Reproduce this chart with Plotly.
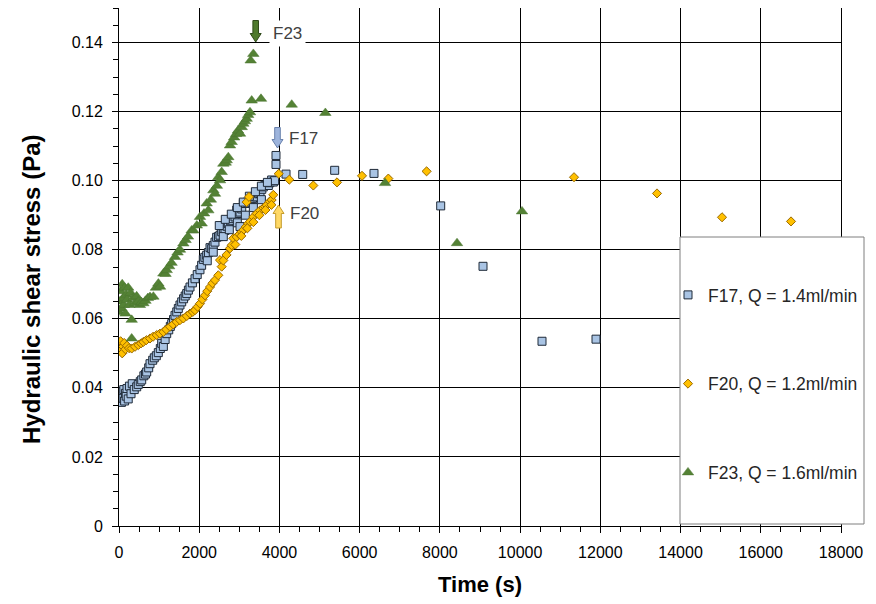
import plotly.graph_objects as go

# ---------------- data ----------------
f17_t = [0, 20, 40, 60, 80, 100, 120, 140, 160, 180, 200, 230, 260, 300, 330, 380,
         441, 480, 530, 566, 620, 660, 690, 740, 773, 840, 880, 930, 980, 1030, 1064, 1106,
         1150, 1189, 1240, 1280, 1314, 1360, 1396, 1440, 1479, 1520, 1563, 1610, 1650, 1688,
         1730, 1770, 1830, 1895, 1950, 2019, 2060, 2102, 2140, 2186, 2230, 2269, 2311, 2350,
         2393, 2435, 2480, 2518, 2560, 2601, 2643, 2690, 2725, 2780, 2840, 2892, 2934, 2970,
         3017, 3060, 3100, 3141, 3200, 3266, 3330, 3380, 3433, 3480, 3515, 3560, 3599, 3640,
         3680, 3723, 3760, 3806, 3847, 3880,
         2500, 2650, 2800, 2950, 3100, 3250, 3400, 3550, 3700,
         2200, 2350, 2600, 2750, 2950, 3150, 3350, 3550, 3017,
         3914, 3914, 4164, 4580, 5377, 6357, 8020, 9075, 10546, 11892]
f17_v = [0.0365, 0.0372, 0.0380, 0.0358, 0.0388, 0.0370, 0.0395, 0.0362, 0.0384, 0.0376, 0.0398, 0.0368, 0.0405, 0.0383, 0.0412, 0.0395,
         0.0403, 0.0410, 0.0418, 0.0423, 0.0435, 0.0440, 0.0446, 0.0458, 0.0470, 0.0480, 0.0487, 0.0493, 0.0502, 0.0514, 0.0529, 0.0520,
         0.0540, 0.0557, 0.0568, 0.0578, 0.0586, 0.0598, 0.0610, 0.0620, 0.0630, 0.0640, 0.0649, 0.0658, 0.0666, 0.0673,
         0.0683, 0.0692, 0.0704, 0.0716, 0.0728, 0.0742, 0.0755, 0.0772, 0.0778, 0.0784, 0.0792, 0.0806, 0.0803, 0.0812,
         0.0822, 0.0836, 0.0838, 0.0842, 0.0852, 0.0857, 0.0856, 0.0868, 0.0876, 0.0884, 0.0890, 0.0895, 0.0915, 0.0905,
         0.0909, 0.0918, 0.0934, 0.0934, 0.0938, 0.0943, 0.0948, 0.0953, 0.0953, 0.0962, 0.0963, 0.0975, 0.0982, 0.0987,
         0.0986, 0.0986, 0.0994, 0.1002, 0.0996, 0.1000,
         0.0870, 0.0888, 0.0903, 0.0922, 0.0938, 0.0955, 0.0968, 0.0984, 0.0995,
         0.0768, 0.0793, 0.0838, 0.0858, 0.0878, 0.0900, 0.0922, 0.0945, 0.0867,
         0.1047, 0.1073, 0.1019, 0.1018, 0.1030, 0.1021, 0.0927, 0.0752, 0.0535, 0.0541]

f20_t = [20, 40, 60, 80, 100, 130, 160, 200, 250, 316, 400, 482, 550, 607, 680, 773, 850, 940,
         1020, 1106, 1180, 1272, 1350, 1438, 1520, 1604, 1690, 1770, 1840, 1895, 1960, 2019,
         2080, 2144, 2200, 2269, 2330, 2393, 2476, 2518, 2560, 2601, 2680, 2767, 2809, 2850,
         2934, 3000, 3060, 3100, 3160, 3224, 3266, 3349, 3433, 3515, 3600, 3640, 3682, 3760,
         3806, 3847, 2900, 3050, 3200, 3350, 3500, 3650, 3800, 3183, 3241,
         3982, 4246, 4845, 5435, 6058, 6715, 7669, 11344, 13413, 15034, 16754]
f20_v = [0.0528, 0.0535, 0.0509, 0.0500, 0.0520, 0.0530, 0.0512, 0.0522, 0.0515, 0.0514, 0.0519, 0.0524, 0.0529, 0.0533, 0.0538, 0.0543, 0.0548, 0.0553,
         0.0557, 0.0562, 0.0569, 0.0577, 0.0584, 0.0591, 0.0596, 0.0601, 0.0608, 0.0615, 0.0620, 0.0625, 0.0635, 0.0644,
         0.0656, 0.0668, 0.0680, 0.0692, 0.0703, 0.0712, 0.0726, 0.0770, 0.0751, 0.0769, 0.0785, 0.0804, 0.0813, 0.0833,
         0.0837, 0.0845, 0.0852, 0.0857, 0.0866, 0.0876, 0.0881, 0.0895, 0.0905, 0.0914, 0.0921, 0.0925, 0.0929, 0.0940,
         0.0944, 0.0959, 0.0815, 0.0840, 0.0862, 0.0880, 0.0900, 0.0915, 0.0930, 0.0938, 0.0953,
         0.1020, 0.1003, 0.0986, 0.0995, 0.1014, 0.1006, 0.1027, 0.1010, 0.0963, 0.0894, 0.0882]

f23_t = [0, 20, 40, 60, 80, 100, 120, 140, 160, 180, 200, 230, 260, 290, 316, 316, 360, 400,
         440, 480, 520, 560, 607, 660, 720, 773, 857, 920, 982, 1023, 1106, 1160, 1189, 1250,
         1310, 1396, 1460, 1520, 1604, 1660, 1720, 1812, 1853, 1940, 2019, 2061, 2120, 2186,
         2227, 2290, 2353, 2393, 2440, 2476, 2518, 2560, 2601, 2660, 2685, 2725, 2767, 2809,
         2870, 2920, 2967, 3017, 3060, 3100, 3140, 3183, 3220, 3266, 3283, 3349, 3308, 3540,
         4306, 5145, 6632, 8427, 10047]
f23_v = [0.0620, 0.0650, 0.0680, 0.0630, 0.0700, 0.0660, 0.0640, 0.0690, 0.0615, 0.0670, 0.0655, 0.0690, 0.0640, 0.0675, 0.0597, 0.0543, 0.0660, 0.0645,
         0.0665, 0.0650, 0.0640, 0.0648, 0.0645, 0.0652, 0.0660, 0.0663, 0.0664, 0.0690, 0.0702, 0.0693, 0.0731, 0.0730, 0.0741, 0.0752,
         0.0762, 0.0779, 0.0792, 0.0800, 0.0818, 0.0828, 0.0838, 0.0856, 0.0856, 0.0870, 0.0895, 0.0876, 0.0905, 0.0934,
         0.0914, 0.0945, 0.0972, 0.0962, 0.0985, 0.1010, 0.1001, 0.1025, 0.1049, 0.1052, 0.1059, 0.1068, 0.1102, 0.1112,
         0.1125, 0.1135, 0.1145, 0.1136, 0.1155, 0.1165, 0.1172, 0.1179, 0.1190, 0.1198, 0.1348, 0.1367, 0.1232, 0.1237,
         0.1220, 0.1196, 0.0993, 0.0819, 0.0911]

series_names = ["F17, Q = 1.4ml/min", "F20, Q = 1.2ml/min", "F23, Q = 1.6ml/min"]
x_ticks = [0, 2000, 4000, 6000, 8000, 10000, 12000, 14000, 16000, 18000]
x_tick_text = ["0", "2000", "4000", "6000", "8000", "10000", "12000", "14000", "16000", "18000"]
y_ticks = [0, 0.02, 0.04, 0.06, 0.08, 0.10, 0.12, 0.14]
y_tick_text = ["0", "0.02", "0.04", "0.06", "0.08", "0.10", "0.12", "0.14"]

# ---------------- layout geometry (screen pixels; page body has an 8px offset) ----------------
OFF = 8
W, H = 876 - OFF, 604 - OFF
X_RANGE = (0, 18000)
Y_RANGE = (0, 0.15)
PL, PR, PT, PB = 119, 841, 8, 526   # plot area in screenshot pixels


def px2x(px):
    return X_RANGE[0] + (px - PL) / (PR - PL) * (X_RANGE[1] - X_RANGE[0])


def px2y(py):
    return Y_RANGE[0] + (PB - py) / (PB - PT) * (Y_RANGE[1] - Y_RANGE[0])


def px2paper_x(px):
    return (px - PL) / (PR - PL)


def px2paper_y(py):
    return (PB - py) / (PB - PT)


def block_arrow(cx, y_tail, y_head_base, y_tip, shaft_hw=2.8, head_hw=5.5):
    pts = [(cx - shaft_hw, y_tail), (cx + shaft_hw, y_tail), (cx + shaft_hw, y_head_base),
           (cx + head_hw, y_head_base), (cx, y_tip), (cx - head_hw, y_head_base),
           (cx - shaft_hw, y_head_base)]
    return "M " + " L ".join(f"{px2x(a):.2f},{px2y(b):.6f}" for a, b in pts) + " Z"


FONT = "Liberation Sans, Arial, sans-serif"

fig = go.Figure()
fig.add_trace(go.Scatter(
    x=f17_t, y=f17_v, mode="markers", name=series_names[0], legendgroup="a",
    marker=dict(symbol="square", size=8, color="#a9c4e4",
                line=dict(color="#1f2a38", width=1))))
fig.add_trace(go.Scatter(
    x=f20_t, y=f20_v, mode="markers", name=series_names[1], legendgroup="b",
    marker=dict(symbol="diamond", size=7, color="#ffc000",
                line=dict(color="#9a6a00", width=1))))
fig.add_trace(go.Scatter(
    x=f23_t, y=f23_v, mode="markers", name=series_names[2], legendgroup="c",
    marker=dict(symbol="triangle-up", size=10, color="#548235",
                line=dict(color="#4a7530", width=0.5))))

shapes = [
    # legend box
    dict(type="rect", xref="paper", yref="paper",
         x0=px2paper_x(680), x1=px2paper_x(864),
         y0=px2paper_y(524), y1=px2paper_y(237),
         fillcolor="white", line=dict(color="#7f7f7f", width=1), layer="above"),
    # block arrows
    dict(type="path", xref="x", yref="y", path=block_arrow(255.7, 20.5, 33.5, 42),
         fillcolor="#4f7a2c", line=dict(color="#2f4a1a", width=1), layer="above"),
    dict(type="path", xref="x", yref="y", path=block_arrow(277.5, 127.5, 139.5, 148),
         fillcolor="#9db4dc", line=dict(color="#6a82ad", width=1), layer="above"),
    dict(type="path", xref="x", yref="y", path=block_arrow(278.5, 228, 213.5, 205),
         fillcolor="#ffd966", line=dict(color="#c49a2a", width=1), layer="above"),
]

annotations = [
    dict(x=px2x(287), y=px2y(33), xref="x", yref="y", text="F23", showarrow=False,
         font=dict(family=FONT, size=17, color="#404040"), bgcolor="white", borderpad=3),
    dict(x=px2x(303), y=px2y(138), xref="x", yref="y", text="F17", showarrow=False,
         font=dict(family=FONT, size=17, color="#404040"), bgcolor="white", borderpad=2),
    dict(x=px2x(304), y=px2y(213), xref="x", yref="y", text="F20", showarrow=False,
         font=dict(family=FONT, size=17, color="#404040"), bgcolor="white", borderpad=2),
    # y-axis title
    dict(x=px2paper_x(31), y=px2paper_y(290), xref="paper", yref="paper",
         xanchor="center", yanchor="middle", textangle=-90, showarrow=False,
         text="<b>Hydraulic shear stress (Pa)</b>",
         font=dict(family=FONT, size=24, color="black")),
]

fig.update_layout(
    width=W, height=H,
    margin=dict(l=PL - OFF, r=W - (PR - OFF), t=PT - OFF, b=H - (PB - OFF), autoexpand=False),
    paper_bgcolor="white", plot_bgcolor="white",
    font=dict(family=FONT, size=16, color="#000000"),
    showlegend=True,
    legend=dict(x=px2paper_x(668), y=px2paper_y(277),
                xanchor="left", yanchor="top",
                bgcolor="rgba(0,0,0,0)", borderwidth=0,
                font=dict(family=FONT, size=17.5, color="#262626"),
                traceorder="grouped", tracegroupgap=63),
    shapes=shapes,
    annotations=annotations,
    xaxis=dict(range=list(X_RANGE), tickvals=x_ticks, ticktext=x_tick_text,
               ticks="outside", ticklen=6, automargin=False, ticklabelstandoff=6,
               tickcolor="black", showgrid=True, gridcolor="black", gridwidth=1,
               showline=True, linecolor="black", linewidth=1, mirror=True,
               zeroline=False, tickfont=dict(family=FONT, size=16, color="black"),
               minor=dict(dtick=500, ticks="outside", ticklen=5, tickcolor="black", showgrid=False),
               title=dict(text="<b>Time (s)</b>", font=dict(family=FONT, size=22, color="black"),
                          standoff=16)),
    yaxis=dict(range=list(Y_RANGE), tickvals=y_ticks, ticktext=y_tick_text, ticks="outside",
               ticklen=6, automargin=False, ticklabelstandoff=6,
               tickcolor="black", showgrid=True, gridcolor="black", gridwidth=1,
               showline=True, linecolor="black", linewidth=1, mirror=True,
               zeroline=False, tickfont=dict(family=FONT, size=16, color="black"),
               minor=dict(dtick=0.005, ticks="outside", ticklen=5, tickcolor="black", showgrid=False)),
)

fig.write_html("out.html")
